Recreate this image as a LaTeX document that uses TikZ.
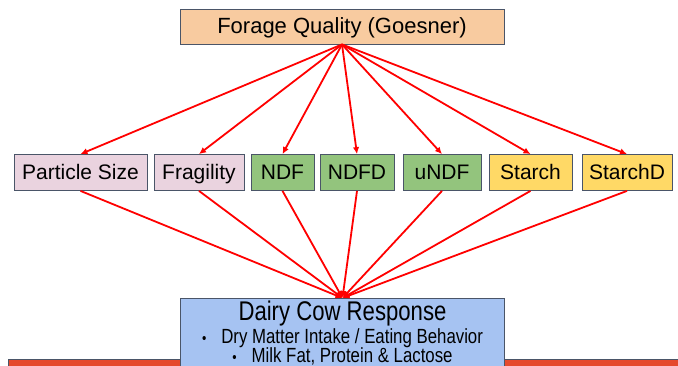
\documentclass[tikz,border=0pt]{standalone}
\usepackage{fontspec}
\setmainfont{Liberation Sans}
\newfontfamily\narrowsf[FakeStretch=0.82]{Liberation Sans}
\usetikzlibrary{arrows.meta}

\definecolor{ForageFill}{HTML}{F8CBA0}
\definecolor{PhysFill}{HTML}{EAD3DF}
\definecolor{FiberFill}{HTML}{93C47D}
\definecolor{StarchFill}{HTML}{FFD966}
\definecolor{ResponseFill}{HTML}{A6C3F2}
\definecolor{BoxEdge}{HTML}{4A5568}
\definecolor{BarFill}{HTML}{E5492D}

\begin{document}
\begin{tikzpicture}[x=1pt,y=-1pt,
    box/.style={draw=BoxEdge,line width=0.8pt,inner sep=0pt,text height=16pt,text depth=3pt,
      font=\fontsize{21}{25}\selectfont},
    link/.style={red,line width=1.8pt,-{Latex[length=7pt,width=6.5pt]}}]
    \useasboundingbox (0,0) rectangle (678,365);
    \node[box,fill=ForageFill,minimum width=324,minimum height=35,font=\fontsize{22}{26}\selectfont]
      (forage) at (342,26.5) {Forage Quality (Goesner)};
    % bar behind the response box
    \draw[BoxEdge,fill=BarFill,line width=0.8pt] (8,359) rectangle (690,370);
    \node[draw=BoxEdge,line width=0.8pt,fill=ResponseFill,anchor=north,minimum width=324,align=center,
      inner xsep=0pt,inner ysep=3pt,font=\narrowsf\fontsize{20.5}{19.5}\selectfont]
      (response) at (342.5,298)
      {{\fontsize{27}{27}\selectfont Dairy Cow Response}\\[1pt]
       {\fontsize{15}{15}\selectfont\textbullet}\hspace{15pt}Dry Matter Intake / Eating Behavior\\
       {\fontsize{15}{15}\selectfont\textbullet}\hspace{15pt}Milk Fat, Protein \& Lactose\\[8pt]};
    \foreach \name/\x/\w/\col/\label in {
        size/80.5/133/PhysFill/Particle Size,
        frag/199/90/PhysFill/Fragility,
        ndf/282.5/63/FiberFill/NDF,
        ndfd/357/74/FiberFill/NDFD,
        undf/442/78/FiberFill/uNDF,
        starch/530.5/83/StarchFill/Starch,
        starchd/627/90/StarchFill/StarchD}{
      \node[box,fill=\col,minimum width=\w,minimum height=36] (\name) at (\x,172.5) {\label};
      \draw[link] (forage.south) -- (\name.north);
      \draw[link] (\name.south) -- (response.north);
    }
  \end{tikzpicture}
\end{document}
